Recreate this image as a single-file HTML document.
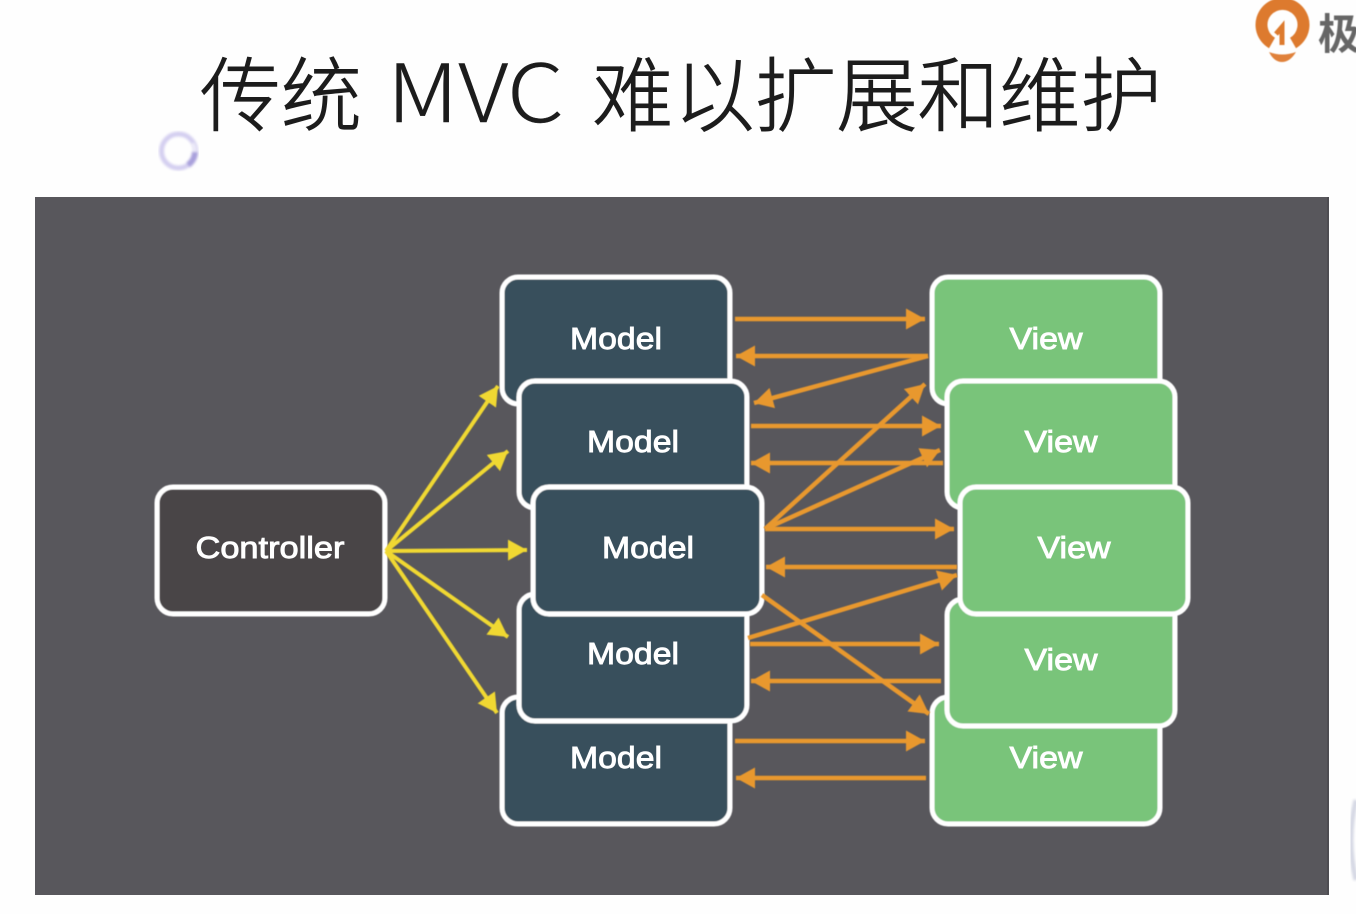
<!DOCTYPE html>
<html><head><meta charset="utf-8"><style>
html,body{margin:0;padding:0;background:#fefefe;width:1356px;height:914px;overflow:hidden}
svg{display:block}
.t{font-family:"Liberation Sans","Noto Sans CJK SC",sans-serif;font-size:31px;fill:#fff;text-anchor:middle;stroke:#fff;stroke-width:.9}
.h{font-family:"Noto Sans CJK SC","Liberation Sans",sans-serif;font-weight:300;font-size:81px;fill:#1c1c1c;stroke:#1c1c1c;stroke-width:.9}
</style></head><body>
<svg width="1356" height="914" viewBox="0 0 1356 914" xmlns="http://www.w3.org/2000/svg">
<defs>
<filter id="b"><feGaussianBlur stdDeviation="0.6"/></filter>
<filter id="b2"><feGaussianBlur stdDeviation="1.2"/></filter>
<marker id="o" markerUnits="userSpaceOnUse" markerWidth="22" markerHeight="22" refX="19" refY="10.500" orient="auto"><path d="M0 0L19 10.500L0 21Z" fill="#e8982f"/></marker>
<marker id="y" markerUnits="userSpaceOnUse" markerWidth="22" markerHeight="22" refX="19" refY="10.500" orient="auto"><path d="M0 0L19 10.500L0 21Z" fill="#f0d832"/></marker>
</defs>
<rect width="1356" height="914" fill="#fefefe"/>
<text class="h" x="200" y="125" textLength="162" lengthAdjust="spacingAndGlyphs">传统</text>
<text x="387" y="122" font-family="'Noto Sans CJK SC','Liberation Sans',sans-serif" font-weight="300" font-size="80" fill="#1c1c1c" stroke="#1c1c1c" stroke-width=".4" textLength="177" lengthAdjust="spacingAndGlyphs">MVC</text>
<text class="h" x="592" y="125" textLength="570" lengthAdjust="spacingAndGlyphs">难以扩展和维护</text>

<g filter="url(#b2)">
<circle cx="178.500" cy="151" r="17" fill="none" stroke="#d4cff0" stroke-width="5"/>
<path d="M193 143A17 17 0 0 1 188 165" fill="none" stroke="#ffffff" stroke-width="1.500"/>
<path d="M188 165A17 17 0 0 0 195 152" fill="none" stroke="#a9a0dc" stroke-width="6"/>
</g>
<g filter="url(#b)">
<path d="M1272 43A21 21 0 1 1 1293 43" fill="none" stroke="#dd7a2e" stroke-width="12"/>
<path d="M1282 45V27L1276 34" fill="none" stroke="#dd7a2e" stroke-width="5"/>
<path d="M1269 52Q1282 57 1296 52Q1290 62 1282 62Q1274 62 1269 52Z" fill="#e0813a"/>
<text x="1318" y="49" font-family="'Noto Sans CJK SC',sans-serif" font-weight="700" font-size="42" fill="#666">极</text>
</g>
<path d="M1356 800Q1346 840 1356 880" fill="none" stroke="#d5d8e4" stroke-width="5" filter="url(#b2)"/>

<rect x="35" y="197" width="1294" height="698" fill="#58575c"/>
<rect x="1327" y="197" width="2" height="698" fill="#4e4d52"/>

<g stroke-width="5" stroke="#fff" filter="url(#b)">
<rect x="157" y="487" width="228" height="127" rx="16" fill="#484547"/>
<rect x="502" y="277" width="228" height="127" rx="16" fill="#384f5b"/>
<rect x="502" y="697" width="228" height="127" rx="16" fill="#384f5b"/>
<rect x="519" y="381" width="228" height="127" rx="16" fill="#384f5b"/>
<rect x="519" y="594" width="228" height="127" rx="16" fill="#384f5b"/>
<rect x="533" y="487" width="229" height="127" rx="16" fill="#384f5b"/>
<rect x="932" y="277" width="228" height="127" rx="16" fill="#79c47a"/>
<rect x="932" y="697" width="228" height="127" rx="16" fill="#79c47a"/>
<rect x="947" y="381" width="228" height="127" rx="16" fill="#79c47a"/>
<rect x="947" y="599" width="228" height="127" rx="16" fill="#79c47a"/>
<rect x="960" y="487" width="228" height="127" rx="16" fill="#79c47a"/>
</g>

<g>
<text class="t" x="270" y="558" textLength="149" lengthAdjust="spacingAndGlyphs">Controller</text>
<text class="t" x="616" y="349" textLength="92" lengthAdjust="spacingAndGlyphs">Model</text>
<text class="t" x="633" y="452" textLength="92" lengthAdjust="spacingAndGlyphs">Model</text>
<text class="t" x="648" y="558" textLength="92" lengthAdjust="spacingAndGlyphs">Model</text>
<text class="t" x="633" y="664" textLength="92" lengthAdjust="spacingAndGlyphs">Model</text>
<text class="t" x="616" y="768" textLength="92" lengthAdjust="spacingAndGlyphs">Model</text>
<text class="t" x="1046" y="349" textLength="73" lengthAdjust="spacingAndGlyphs">View</text>
<text class="t" x="1061" y="452" textLength="73" lengthAdjust="spacingAndGlyphs">View</text>
<text class="t" x="1074" y="558" textLength="73" lengthAdjust="spacingAndGlyphs">View</text>
<text class="t" x="1061" y="670" textLength="73" lengthAdjust="spacingAndGlyphs">View</text>
<text class="t" x="1046" y="768" textLength="73" lengthAdjust="spacingAndGlyphs">View</text>
</g>

<g stroke="#f0d832" stroke-width="4" fill="none" filter="url(#b)">
<line x1="386" y1="551" x2="498" y2="386" marker-end="url(#y)"/>
<line x1="386" y1="551" x2="508" y2="451" marker-end="url(#y)"/>
<line x1="386" y1="551" x2="527" y2="550" marker-end="url(#y)"/>
<line x1="386" y1="551" x2="508" y2="637" marker-end="url(#y)"/>
<line x1="386" y1="551" x2="497" y2="713" marker-end="url(#y)"/>
</g>

<g stroke="#e8982f" stroke-width="4.500" fill="none" filter="url(#b)">
<line x1="735" y1="319" x2="925" y2="319" marker-end="url(#o)"/>
<line x1="928" y1="356" x2="736" y2="356" marker-end="url(#o)"/>
<line x1="928" y1="356" x2="754" y2="403" marker-end="url(#o)"/>
<line x1="751" y1="426" x2="941" y2="426" marker-end="url(#o)"/>
<line x1="943" y1="463" x2="751" y2="463" marker-end="url(#o)"/>
<line x1="765" y1="529" x2="925" y2="384" marker-end="url(#o)"/>
<line x1="765" y1="529" x2="940" y2="450" marker-end="url(#o)"/>
<line x1="765" y1="529" x2="954" y2="529" marker-end="url(#o)"/>
<line x1="957" y1="567" x2="766" y2="567" marker-end="url(#o)"/>
<line x1="748" y1="638" x2="957" y2="575" marker-end="url(#o)"/>
<line x1="750" y1="644" x2="939" y2="644" marker-end="url(#o)"/>
<line x1="941" y1="681" x2="751" y2="681" marker-end="url(#o)"/>
<line x1="762" y1="595" x2="929" y2="714" marker-end="url(#o)"/>
<line x1="735" y1="741" x2="925" y2="741" marker-end="url(#o)"/>
<line x1="926" y1="778" x2="736" y2="778" marker-end="url(#o)"/>
</g>
</svg>
</body></html>
